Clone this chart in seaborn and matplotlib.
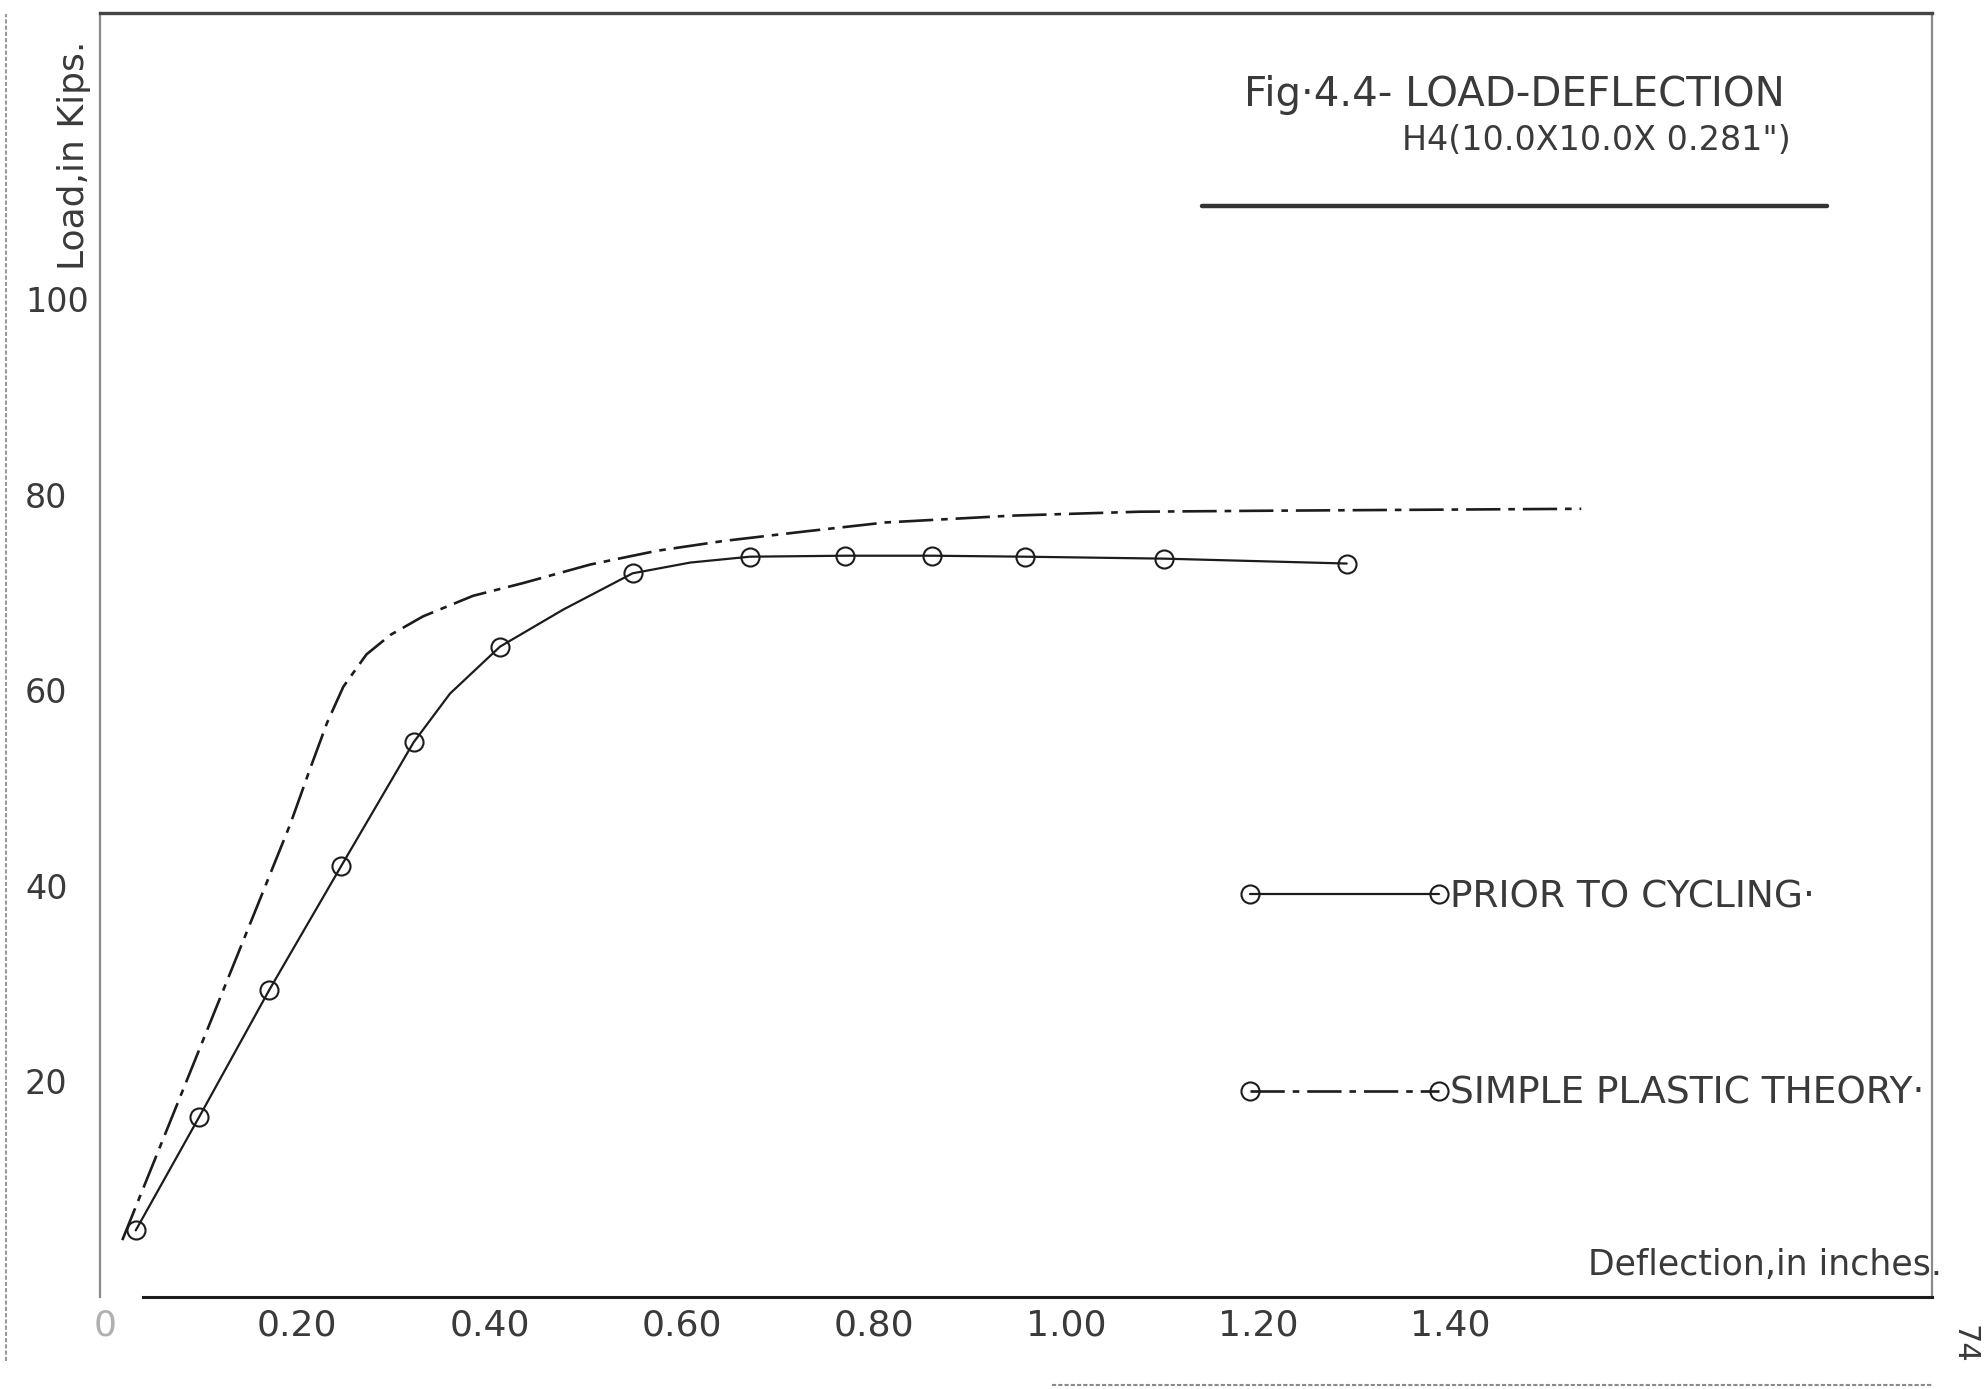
import matplotlib
matplotlib.use("Agg")
import matplotlib.pyplot as plt
from matplotlib.lines import Line2D
import seaborn as sns
import pandas as pd

# load-deflection readings, prior to cycling (inches, kips)
prior_defl = [0.032, 0.098, 0.171, 0.246, 0.321, 0.411, 0.549, 0.671, 0.770, 0.861, 0.957, 1.102, 1.292]
prior_load = [6.1, 17.7, 30.7, 43.4, 56.0, 65.8, 73.3, 75.0, 75.1, 75.1, 75.0, 74.8, 74.3]

# the faired curve drawn through those readings (extra points)
curve_defl = [0.032, 0.098, 0.171, 0.246, 0.321, 0.359, 0.411, 0.477, 0.549, 0.609,
              0.671, 0.770, 0.861, 0.957, 1.102, 1.292]
curve_load = [6.1, 17.7, 30.7, 43.4, 56.0, 61.0, 65.8, 69.6, 73.3, 74.4,
              75.0, 75.1, 75.1, 75.0, 74.8, 74.3]

# simple plastic theory curve
theory_defl = [0.018, 0.161, 0.193, 0.213, 0.231, 0.248, 0.272, 0.297, 0.331, 0.383,
               0.435, 0.505, 0.574, 0.643, 0.730, 0.812, 0.944, 1.076, 1.207, 1.536]
theory_load = [5.1, 39.9, 47.7, 53.2, 58.0, 61.7, 65.0, 67.0, 68.9, 71.0,
               72.3, 74.2, 75.6, 76.6, 77.6, 78.5, 79.2, 79.6, 79.7, 79.9]

x_ticks = [0.0, 0.2, 0.4, 0.6, 0.8, 1.0, 1.2, 1.4]
x_ticklabels = ["0", "0.20", "0.40", "0.60", "0.80", "1.00", "1.20", "1.40"]
y_ticks = [20, 40, 60, 80, 100]
y_ticklabels = ["20", "40", "60", "80", "100"]
legend_labels = ["PRIOR TO CYCLING·", "SIMPLE PLASTIC THEORY·"]

INK = "#1c1c1c"
TXT = "#3a3a3a"
DASHDOT = (0, (13, 3, 2.5, 3))
MS = 13

sns.set_theme(style="white")
plt.rcParams["font.family"] = ["DejaVu Sans"]

prior = pd.DataFrame({"defl": prior_defl, "load": prior_load})
curve = pd.DataFrame({"defl": curve_defl, "load": curve_load})
theory = pd.DataFrame({"defl": theory_defl, "load": theory_load})

fig = plt.figure(figsize=(19.84, 13.89), dpi=100)
ax = fig.add_axes([0.0504, 0.0662, 0.9234, 0.9244])

sns.lineplot(data=curve, x="defl", y="load", ax=ax, color=INK, lw=1.6)
sns.lineplot(data=prior, x="defl", y="load", ax=ax, color=INK, linestyle="",
             marker="o", markersize=MS, markerfacecolor="none",
             markeredgecolor=INK, markeredgewidth=1.5)
sns.lineplot(data=theory, x="defl", y="load", ax=ax, color=INK, lw=1.9,
             linestyle=DASHDOT)

ax.set_xlim(-0.0052, 1.901)
ax.set_ylim(-0.72, 130.6)
ax.set_xlabel("")
ax.set_ylabel("")

ax.set_xticks(x_ticks)
ax.set_xticklabels(x_ticklabels)
ax.set_yticks(y_ticks)
ax.set_yticklabels(y_ticklabels)
ax.tick_params(axis="x", direction="in", length=14, width=1.3, color=INK,
               pad=8, labelsize=26, labelcolor=TXT)
ax.tick_params(axis="y", direction="in", length=9, width=1.3, color=INK,
               pad=54, labelsize=24, labelcolor=TXT)
for lab in ax.get_yticklabels():
    lab.set_horizontalalignment("left")
    lab.set_verticalalignment("baseline")
ax.get_xticklabels()[0].set_color("#b0b0b0")

for side in ["left", "right"]:
    ax.spines[side].set_color("#8a8a8a")
    ax.spines[side].set_linewidth(1.6)
    ax.spines[side].set_linestyle((0, (2, 1)))
ax.spines["top"].set_color("#444444")
ax.spines["top"].set_linewidth(2.4)
ax.spines["bottom"].set_color(INK)
ax.spines["bottom"].set_linewidth(2.2)
ax.spines["bottom"].set_bounds(0.04, 1.901)

handles = [
    Line2D([], [], color=INK, lw=1.6, marker="o", markersize=MS,
           markerfacecolor="none", markeredgecolor=INK, markeredgewidth=1.5),
    Line2D([], [], color=INK, lw=1.9, linestyle=DASHDOT, marker="o", markersize=MS,
           markerfacecolor="none", markeredgecolor=INK, markeredgewidth=1.5),
]
leg = ax.legend(handles, legend_labels, loc="center left",
                bbox_to_anchor=(1.18, 30.1), bbox_transform=ax.transData,
                frameon=False, numpoints=2, fontsize=27, handlelength=5.63,
                handletextpad=0.0, labelspacing=4.28, borderpad=0, borderaxespad=0)
for t in leg.get_texts():
    t.set_color(TXT)

# title block
fig.text(0.627, 0.9316, "Fig·4.4- LOAD-DEFLECTION", fontsize=29, color=TXT,
         ha="left", va="center")
fig.text(0.7065, 0.899, 'H4(10.0X10.0X 0.281")', fontsize=24, color=TXT,
         ha="left", va="center")
fig.add_artist(Line2D([0.606, 0.921], [0.8517, 0.8517], transform=fig.transFigure,
                      color="#333333", lw=3.2))

# axis captions
fig.text(0.0373, 0.888, "Load,in Kips.", fontsize=26, color=TXT, rotation=90,
         ha="center", va="center")
fig.text(0.9788, 0.0893, "Deflection,in inches.", fontsize=25, color=TXT,
         ha="right", va="center")
fig.text(0.990, 0.032, "74", fontsize=22, color=TXT, rotation=-90,
         ha="center", va="center")

# paper edges of the scanned sheet
fig.add_artist(Line2D([0.003, 0.003], [0.02, 0.99], transform=fig.transFigure,
                      color="#9a9a9a", lw=1.5, linestyle=(0, (2, 1))))
fig.add_artist(Line2D([0.53, 0.974], [0.003, 0.003], transform=fig.transFigure,
                      color="#8a8a8a", lw=1.5, linestyle=(0, (2, 1))))

fig.savefig("out.png", dpi=100, facecolor="white")
